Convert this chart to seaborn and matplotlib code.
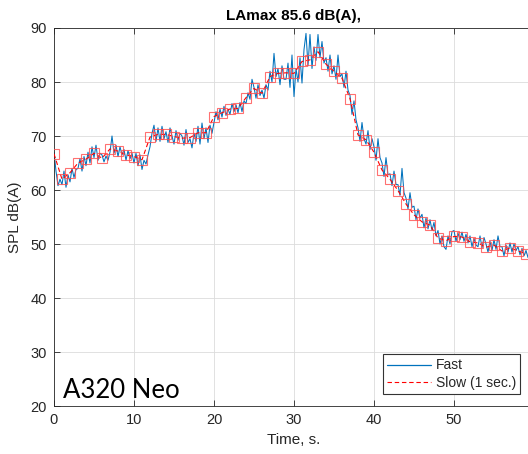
import numpy as np
import pandas as pd
import matplotlib
matplotlib.use("Agg")
import matplotlib.pyplot as plt
from matplotlib.lines import Line2D
import seaborn as sns

# ---- data -------------------------------------------------------------
title_text = "LAmax 85.6 dB(A),"
x_label = "Time, s."
y_label = "SPL dB(A)"
annotation = "A320 Neo"
legend_labels = ["Fast", "Slow (1 sec.)"]
x_ticks = [0, 10, 20, 30, 40, 50]
y_ticks = [20, 30, 40, 50, 60, 70, 80, 90]

# Slow (1 s) values, one per second from t = 0 s
slow_t = list(range(60))
slow_db = [66.7, 62.0, 63.2, 65.0, 65.7, 66.8, 65.9, 67.6, 67.2, 66.5,
           66.2, 65.6, 69.8, 70.3, 70.3, 69.9, 69.6, 69.7, 70.6, 70.6,
           73.6, 74.3, 75.0, 75.1, 77.1, 78.8, 77.9, 81.0, 81.6, 81.7,
           81.6, 83.8, 84.1, 85.6, 83.3, 82.0, 80.7, 76.9, 70.2, 69.3,
           67.0, 63.7, 62.0, 59.9, 57.4, 55.4, 54.1, 53.5, 51.1, 50.6,
           51.4, 51.3, 50.4, 50.2, 49.4, 49.8, 48.7, 49.3, 48.7, 48.2]

# Fast values, every 0.25 s from t = 0 s
fast_step = 0.25
fast_db = [
    67.0, 63.5, 60.8, 62.0,   61.0, 63.5, 60.5, 62.8,   61.5, 64.0, 62.3, 63.8,
    64.0, 65.8, 63.5, 66.2,   64.5, 67.0, 65.0, 68.0,   66.0, 68.3, 65.5, 66.8,
    66.5, 65.2, 66.3, 65.5,   67.0, 70.0, 66.8, 68.3,   66.2, 68.0, 66.5, 67.5,
    65.5, 67.3, 65.8, 66.8,   65.0, 66.8, 64.5, 66.5,   63.8, 65.5, 64.8, 66.5,
    68.0, 70.5, 72.0, 69.0,   71.5, 69.0, 71.8, 69.5,   70.8, 68.8, 71.5, 70.0,
    68.5, 71.0, 69.2, 70.5,   70.0, 68.3, 71.2, 68.8,   69.5, 67.8, 70.5, 69.0,
    71.8, 68.5, 72.4, 69.5,   71.5, 68.8, 72.0, 70.5,   72.5, 74.5, 73.0, 75.0,
    73.5, 75.5, 73.8, 75.0,   74.0, 76.0, 74.5, 75.8,   74.3, 76.2, 74.5, 76.5,
    76.0, 78.0, 76.8, 80.5,   79.0, 77.0, 79.5, 77.5,   78.5, 77.0, 79.5, 78.5,
    82.0, 80.0, 85.3, 81.0,   82.5, 79.5, 83.0, 80.5,   80.5, 83.5, 79.0, 85.0,
    77.3, 82.5, 80.0, 84.5,   79.8, 86.0, 89.0, 83.0,   88.8, 82.5, 86.5, 84.0,
    88.8, 84.5, 87.5, 83.5,   84.5, 82.0, 85.0, 81.5,   83.0, 80.5, 85.0, 81.0,
    81.5, 79.0, 82.0, 78.5,   77.5, 74.0, 76.5, 73.0,   71.5, 69.0, 72.5, 69.5,
    68.5, 71.0, 67.5, 69.5,   68.0, 65.5, 69.5, 66.0,   65.0, 62.5, 66.0, 62.8,
    63.0, 60.8, 63.5, 61.0,   61.0, 59.0, 64.0, 59.5,   58.5, 56.5, 59.5, 56.8,
    57.0, 54.5, 56.5, 54.8,   55.5, 53.0, 54.8, 52.8,   54.5, 52.5, 54.0, 51.5,
    52.5, 50.0, 51.5, 49.5,   49.0, 51.5, 50.0, 52.3,   52.5, 50.5, 52.0, 50.8,
    52.2, 50.5, 51.8, 50.2,   51.5, 49.5, 51.0, 49.8,   49.5, 51.5, 49.3, 51.2,
    50.0, 48.5, 50.5, 48.8,   50.8, 49.0, 51.5, 49.5,   49.5, 47.8, 49.8, 48.5,
    50.2, 48.5, 50.0, 48.8,   49.5, 48.0, 49.2, 47.8,   48.8, 47.5,
]
fast_t = [i * fast_step for i in range(len(fast_db))]

fast_df = pd.DataFrame({"t": fast_t, "db": fast_db})
slow_df = pd.DataFrame({"t": slow_t, "db": slow_db})

# ---- style ------------------------------------------------------------
sns.set_theme(style="white")
plt.rcParams["font.family"] = ["Liberation Sans", "DejaVu Sans"]

W, H = 528, 454
fig = plt.figure(figsize=(W / 100, H / 100), dpi=100)
ax = fig.add_axes([54 / W, 48 / H, 480 / W, 378 / H])

fast_col = "#0072BD"
slow_col = "#FF0000"
txt_col = "#262626"

sns.lineplot(data=fast_df, x="t", y="db", ax=ax, color=fast_col,
             linewidth=0.75, estimator=None, sort=False, zorder=2)
sns.lineplot(data=slow_df, x="t", y="db", ax=ax, color=slow_col,
             linewidth=0.8, linestyle=(0, (4, 2.5)), marker="s",
             markersize=6.5, markerfacecolor="none",
             markeredgecolor=(1.0, 0.3, 0.3, 0.8), markeredgewidth=0.8,
             estimator=None, sort=False, zorder=3)

ax.set_xlim(0, 60)
ax.set_ylim(20, 90)
ax.set_xticks(x_ticks)
ax.set_yticks(y_ticks)
ax.grid(True, color="#DCDCDC", linewidth=0.6)
ax.set_axisbelow(True)
for s in ax.spines.values():
    s.set_color(txt_col)
    s.set_linewidth(0.6)
ax.tick_params(direction="in", length=4, width=0.6, color=txt_col,
               labelcolor=txt_col, labelsize=10.5, top=True, right=True,
               bottom=True, left=True, pad=5)

ax.set_xlabel(x_label, fontsize=11, color=txt_col, labelpad=4)
ax.set_ylabel(y_label, fontsize=11, color=txt_col, labelpad=6)
ax.set_title(title_text, fontsize=11, fontweight="bold", color="black", pad=6)

ax.text(1.1, 20.6, annotation, fontsize=18.5, family=["Lato", "DejaVu Sans"],
        color="black", ha="left", va="bottom")

handles = [Line2D([], [], color=fast_col, linewidth=0.9),
           Line2D([], [], color=slow_col, linewidth=0.8, linestyle=(0, (4, 2.5)))]
leg = ax.legend(handles, legend_labels, loc="lower right",
                bbox_to_anchor=((520 - 54) / 480, 12 / 378),
                fontsize=10, frameon=True, fancybox=False, framealpha=1,
                edgecolor="#333333", borderpad=0.3, handlelength=3.2,
                handletextpad=0.3, labelspacing=0.25, borderaxespad=0)
leg.get_frame().set_linewidth(0.8)
for t in leg.get_texts():
    t.set_color(txt_col)

fig.savefig("out.png", dpi=100)
